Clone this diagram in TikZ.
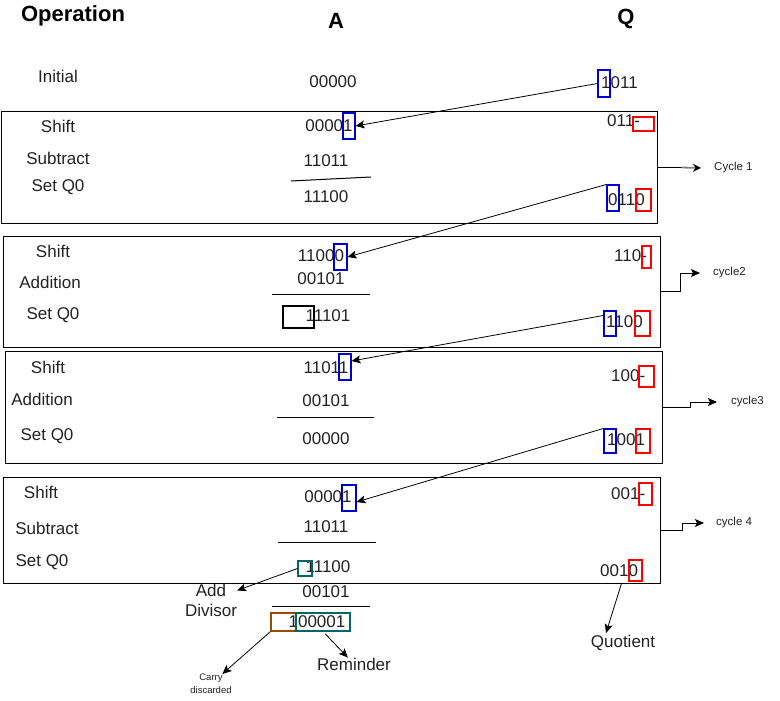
\documentclass[tikz,border=0pt]{standalone}
\usepackage{fontspec}
\setmainfont{Liberation Sans}
\usetikzlibrary{arrows.meta}
\definecolor{hlblue}{HTML}{0000CC}
\definecolor{hlred}{HTML}{FF0000}
\definecolor{hlteal}{HTML}{006666}
\definecolor{hlorange}{HTML}{994C00}
\definecolor{txtcol}{HTML}{222222}
\begin{document}
\begin{tikzpicture}[x=1pt,y=-1pt,
  txt/.style={inner sep=0pt, text=txtcol, font=\fontsize{17}{20}\selectfont},
  qtxt/.style={txt, anchor=west},
  hd/.style={inner sep=0pt, font=\fontsize{22}{26}\selectfont\bfseries},
  sm/.style={inner sep=0pt, text=txtcol, font=\fontsize{11.5}{14}\selectfont},
  tiny/.style={inner sep=0pt, text=txtcol, align=center, font=\fontsize{9.5}{13}\selectfont},
  frame/.style={draw, line width=1pt, inner sep=0pt},
  hl/.style={draw=#1, line width=1.1pt, inner sep=0pt},
  arr/.style={-{Stealth[length=9pt,width=8pt,inset=2pt]}, line width=0.8pt},
  barline/.style={line width=1pt}
]
\useasboundingbox (0,0) rectangle (780,701);

% headers
\node[hd] (hop) at (73,16) {Operation};
\node[hd] (ha) at (336,21) {A};
\node[hd] (hq) at (626,19) {Q};

% initial row
\node[txt] (linit) at (58,76) {Initial};
\node[txt] (ainit) at (333,82) {00000};
\node[qtxt] (qinit) at (601,83) {1011};
\node[hl=hlblue, minimum width=12, minimum height=27] (qb1) at (604,83.5) {};

% frames
\node[frame, minimum width=656, minimum height=111] (c1) at (329,167.5) {};
\node[frame, minimum width=657, minimum height=111] (c2) at (331.5,291.5) {};
\node[frame, minimum width=657, minimum height=112] (c3) at (333.5,407) {};
\node[frame, minimum width=657, minimum height=106] (c4) at (331.5,530) {};

% ---- cycle 1
\node[txt] (l11) at (58,126) {Shift};
\node[txt] (l12) at (58,158) {Subtract};
\node[txt] (l13) at (58,187) {Set Q0};
\node[txt] (a11) at (329,126) {00001};
\node[hl=hlblue, minimum width=12, minimum height=26] (ab1) at (349,126) {};
\node[txt] (a12) at (326,161) {11011};
\draw[barline] (291,181) -- (371,177);
\node[txt] (a13) at (326,197) {11100};
\node[qtxt] (q11) at (607,121) {011-};
\node[hl=hlred, minimum width=21, minimum height=14] (qr1) at (643.5,124) {};
\node[qtxt] (q12) at (608,200) {0110};
\node[hl=hlblue, minimum width=12, minimum height=26] (qb2) at (613,198) {};
\node[hl=hlred, minimum width=15, minimum height=22] (qr2) at (643.5,200) {};

% ---- cycle 2
\node[txt] (l21) at (53,251) {Shift};
\node[txt] (l22) at (50,282) {Addition};
\node[txt] (l23) at (53,315) {Set Q0};
\node[txt] (a21) at (321,256) {11000};
\node[hl=hlblue, minimum width=13, minimum height=26] (ab2) at (340.5,257) {};
\node[txt] (a22) at (321,279) {00101};
\draw[barline] (272,294) -- (370,294);
\node[txt] (a23) at (328,316) {11101};
\node[hl=black, minimum width=31, minimum height=22] (kb2) at (298.5,317) {};
\node[qtxt] (q21) at (614,256) {110-};
\node[hl=hlred, minimum width=9, minimum height=22] (qr3) at (646.5,257) {};
\node[qtxt] (q22) at (606,322) {1100};
\node[hl=hlblue, minimum width=12, minimum height=25] (qb3) at (610,323.5) {};
\node[hl=hlred, minimum width=15, minimum height=25] (qr4) at (642.5,323.5) {};

% ---- cycle 3
\node[txt] (l31) at (48,367) {Shift};
\node[txt] (l32) at (42,399) {Addition};
\node[txt] (l33) at (47,436) {Set Q0};
\node[txt] (a31) at (326,368) {11011};
\node[hl=hlblue, minimum width=12, minimum height=26] (ab3) at (345,367) {};
\node[txt] (a32) at (326,401) {00101};
\draw[barline] (277,417) -- (374,417);
\node[txt] (a33) at (326,439) {00000};
\node[qtxt] (q31) at (611,376) {100-};
\node[hl=hlred, minimum width=15, minimum height=21] (qr5) at (646.5,376.5) {};
\node[qtxt] (q32) at (607,440) {1001};
\node[hl=hlblue, minimum width=12, minimum height=24] (qb4) at (610,441) {};
\node[hl=hlred, minimum width=14, minimum height=24] (qr6) at (643,441) {};

% ---- cycle 4
\node[txt] (l41) at (41,492) {Shift};
\node[txt] (l42) at (47,528) {Subtract};
\node[txt] (l43) at (42,562) {Set Q0};
\node[txt] (a41) at (328,497) {00001};
\node[hl=hlblue, minimum width=14, minimum height=26] (ab4) at (349,498) {};
\node[txt] (a42) at (326,527) {11011};
\draw[barline] (278,542) -- (376,542);
\node[txt] (a43) at (328,567) {11100};
\node[hl=hlteal, minimum width=14, minimum height=15] (tb) at (305,568.5) {};
\node[qtxt] (q41) at (611,494) {001-};
\node[hl=hlred, minimum width=13, minimum height=22] (qr7) at (645.5,494) {};
\node[qtxt] (q42) at (600,571) {0010};
\node[hl=hlred, minimum width=13, minimum height=21] (qr8) at (635.5,570.5) {};

% ---- final add
\node[txt, align=center] (addiv) at (211,600) {Add\\Divisor};
\node[txt] (a51) at (326,592) {00101};
\draw[barline] (272,606) -- (370,606);
\node[txt] (a52) at (317,622) {100001};
\node[hl=hlorange, minimum width=25, minimum height=18] (ob) at (283.5,622) {};
\node[hl=hlteal, minimum width=54, minimum height=18] (rb) at (323,622) {};
\node[tiny] (carry) at (211,684) {Carry\\discarded};
\node[txt] (rem) at (354,664) {Reminder};
\node[txt] (quot) at (623,643) {Quotient};

% cycle labels
\node[sm, anchor=west] (cy1) at (714,168) {Cycle 1};
\node[sm, anchor=west] (cy2) at (713,273) {cycle2};
\node[sm, anchor=west] (cy3) at (731,402) {cycle3};
\node[sm, anchor=west] (cy4) at (716,523) {cycle 4};
\coordinate (cy1t) at ([xshift=-13pt]cy1.west);
\coordinate (cy2t) at ([xshift=-13pt]cy2.west);
\coordinate (cy3t) at ([xshift=-14pt]cy3.west);
\coordinate (cy4t) at ([xshift=-12pt]cy4.west);

% cycle connectors
\draw[line width=0.8pt] (c1.east) -- ++(24,0) coordinate (cy1m);
\draw[line width=1.8pt, draw=gray, -{Stealth[length=8pt,width=8pt,color=black,fill=black]}] (cy1m) -- (cy1t);
\draw[arr] (c2.east) -- ++(20,0) |- (cy2t);
\draw[arr] (c3.east) -- ++(28,0) |- (cy3t);
\draw[arr] (c4.east) -- ++(22,0) |- (cy4t);

% shift arrows
\draw[arr] (qb1.west) -- (ab1.east);
\draw[arr] (qb2.north west) -- (ab2.east);
\draw[arr] ([shift={(0,5)}]qb3.north west) -- ([shift={(0,-6)}]ab3.east);
\draw[arr] (qb4.north west) -- ([shift={(0,4)}]ab4.east);

% final arrows
\draw[arr] (tb.west) -- (addiv);
\draw[arr] (ob.south west) -- (carry);
\draw[arr, shorten <=3pt] (rb.south) -- (rem);
\draw[arr] ([shift={(-7,2)}]qr8.south west) -- ([shift={(-17,-2)}]quot.north);
\end{tikzpicture}
\end{document}
